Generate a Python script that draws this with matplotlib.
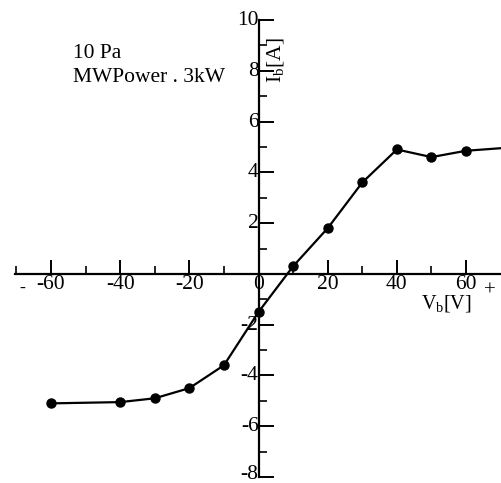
import matplotlib
matplotlib.use("Agg")
import matplotlib.pyplot as plt
import matplotlib.transforms as mtransforms
from matplotlib.ticker import FixedLocator

plt.rcParams['font.family'] = ['Liberation Serif', 'DejaVu Serif']
plt.rcParams['mathtext.fontset'] = 'custom'
plt.rcParams['mathtext.rm'] = 'Liberation Serif'
plt.rcParams['mathtext.it'] = 'Liberation Serif:italic'

# data
vb = [-60, -40, -30, -20, -10, 0, 10, 20, 30, 40, 50, 60, 70]
ib = [-5.1, -5.05, -4.9, -4.5, -3.6, -1.5, 0.3, 1.8, 3.6, 4.9, 4.6, 4.85, 4.95]
x_ticks = [-60, -40, -20, 0, 20, 40, 60]
x_ticklabels = ['-60', '-40', '-20', '0', '20', '40', '60']
y_ticks = [-8, -6, -4, -2, 2, 4, 6, 8, 10]
y_ticklabels = ['-8', '-6', '-4', '-2', '2', '4', '6', '8', '10']

W, H = 501, 483
fig = plt.figure(figsize=(W / 100, H / 100), dpi=100)
ax = fig.add_axes([15 / W, 6 / H, 1 - 15 / W, 1 - 26 / H])
ax.set_xlim(-70.4, 70.1)
ax.set_ylim(-8, 10)

ax.plot(vb, ib, color='black', lw=1.6, marker='o', ms=6.5,
        markevery=list(range(len(vb) - 1)), clip_on=False)

for s in ['top', 'right']:
    ax.spines[s].set_visible(False)
ax.spines['left'].set_position(('data', 0))
ax.spines['bottom'].set_position(('data', 0))
ax.spines['left'].set_linewidth(1.6)
ax.spines['bottom'].set_linewidth(1.6)

ax.xaxis.set_major_locator(FixedLocator(x_ticks))
ax.set_xticklabels(x_ticklabels)
ax.xaxis.set_minor_locator(FixedLocator([-70, -50, -30, -10, 10, 30, 50]))
ax.yaxis.set_major_locator(FixedLocator(y_ticks))
ax.set_yticklabels(y_ticklabels)
ax.yaxis.set_minor_locator(FixedLocator([-7, -5, -3, -1, 1, 3, 5, 7, 9]))

ax.tick_params(axis='x', which='major', direction='in', length=10, width=1.4,
               labelsize=15.5, pad=1)
ax.tick_params(axis='x', which='minor', direction='in', length=6, width=1.2)
ax.tick_params(axis='y', which='major', direction='in', length=11, width=1.4,
               labelsize=15.5, pad=0)
ax.tick_params(axis='y', which='minor', direction='in', length=6, width=1.2)
ax.patch.set_visible(False)

# y tick labels sit slightly above their ticks
for lab in ax.get_yticklabels():
    dy = 5 if lab.get_text() == '-8' else 2
    shift = mtransforms.ScaledTranslation(0, dy / 100, fig.dpi_scale_trans)
    lab.set_transform(lab.get_transform() + shift)

fig.text(73 / W, 1 - 54 / H, '10 Pa', fontsize=15.5, va='center', ha='left')
fig.text(73 / W, 1 - 78 / H, 'MWPower . 3kW', fontsize=15.5, va='center', ha='left')
fig.text(276 / W, 1 - 60 / H, r'I$_\mathrm{b}$[A]', fontsize=15.5, rotation=90,
         va='center', ha='center')
fig.text(446 / W, 1 - 304 / H, r'V$_\mathrm{b}$[V]', fontsize=14.5,
         va='center', ha='center')
fig.text(22 / W, 1 - 288 / H, '-', fontsize=13, va='center', ha='center')
fig.text(490 / W, 1 - 291 / H, '+', fontsize=15, va='center', ha='center')

fig.savefig('out.png', dpi=100)
